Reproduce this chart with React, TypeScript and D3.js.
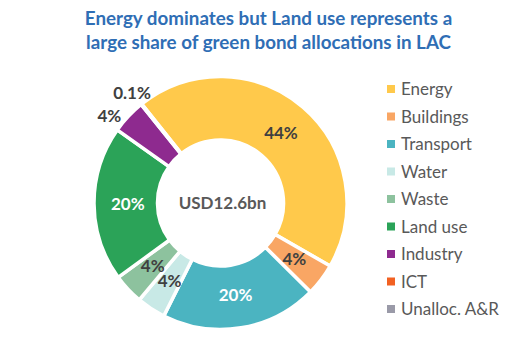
import * as d3 from 'd3';

const sectors = ['Energy', 'Buildings', 'Transport', 'Water', 'Waste', 'Land use', 'Industry', 'ICT', 'Unalloc. A&R'];
const shares = [44.0, 4.1, 20.0, 3.7, 3.9, 19.8, 4.4, 0.1, 0.0];
const colors = ['#FFC94B', '#F9A664', '#4BB4C1', '#C8E9E6', '#8DC29E', '#2BA358', '#8E2A8F', '#F26122', '#9A9AA8'];
const whiteLabels = ['Transport', 'Land use'];
const outsideLabels = ['Industry', 'ICT'];
const titleLines = ['Energy dominates but Land use represents a', 'large share of green bond allocations in LAC'];
const centerLabel = 'USD12.6bn';

const W = 532;
const H = 362;
const cx = 220.5;
const cy = 203;
const outerR = 126.5;
const innerR = 63;
const startDeg = -38.5;
const font = 'Lato, "Open Sans", sans-serif';

interface Slice {
  name: string;
  value: number;
  color: string;
}

const fmt = (v: number) => (v < 1 ? `${v.toFixed(1)}%` : `${Math.round(v)}%`);

export default function App() {
  const data: Slice[] = sectors.map((name, i) => ({ name, value: shares[i], color: colors[i] }));
  const start = (startDeg * Math.PI) / 180;
  const pie = d3
    .pie<Slice>()
    .sort(null)
    .value((d) => d.value)
    .startAngle(start)
    .endAngle(start + 2 * Math.PI);
  const arcs = pie(data);
  const arc = d3.arc<d3.PieArcDatum<Slice>>().innerRadius(innerR).outerRadius(outerR);
  const labelArc = d3.arc<d3.PieArcDatum<Slice>>().innerRadius(innerR - 2).outerRadius(outerR - 2);

  // outside labels, nudged counter-clockwise when they collide
  const outR = outerR + 15;
  const outs = arcs
    .filter((a) => outsideLabels.includes(a.data.name))
    .map((a) => {
      const ang = (a.startAngle + a.endAngle) / 2;
      return { a, ang, text: fmt(a.data.value), w: fmt(a.data.value).length * 9 };
    });
  const pos = (ang: number) => [cx + Math.sin(ang) * outR, cy - Math.cos(ang) * outR];
  for (let i = outs.length - 2; i >= 0; i--) {
    const next = outs[i + 1];
    const [nx, ny] = pos(next.ang);
    let guard = 0;
    while (guard++ < 60) {
      const [x, y] = pos(outs[i].ang);
      const overlapX = Math.abs(x - nx) < (outs[i].w + next.w) / 2;
      const overlapY = Math.abs(y - ny) < 22;
      if (!(overlapX && overlapY)) break;
      outs[i].ang -= Math.PI / 180;
    }
  }

  const legendX = 387;
  const legendY = d3.scalePoint<string>().domain(sectors).range([89, 309]);

  return (
    <svg width={W} height={H} style={{ position: 'absolute', left: 0, top: 0, background: '#fff' }}>
      <g fontFamily={font} fontWeight="bold" fill="#2F6EB5" fontSize={18.8} textAnchor="middle">
        {titleLines.map((t, i) => (
          <text key={i} x={268.5} y={24.5 + i * 24}>
            {t}
          </text>
        ))}
      </g>

      <g transform={`translate(${cx},${cy})`}>
        {arcs.map((a) =>
          a.data.value > 0 ? (
            <path key={a.data.name} d={arc(a) || ''} fill={a.data.color} stroke="#fff" strokeWidth={3.5} />
          ) : null
        )}
      </g>

      <g fontFamily={font} fontWeight="bold" fontSize={17} textAnchor="middle">
        {arcs
          .filter((a) => a.data.value > 0 && !outsideLabels.includes(a.data.name))
          .map((a) => {
            const [x, y] = labelArc.centroid(a);
            return (
              <text
                key={a.data.name}
                x={cx + x}
                y={cy + y}
                dy="0.36em"
                fill={whiteLabels.includes(a.data.name) ? '#fff' : '#404040'}
              >
                {fmt(a.data.value)}
              </text>
            );
          })}
        {outs.map((o) => {
          const [x, y] = pos(o.ang);
          return (
            <text key={o.a.data.name} x={x} y={y} dy="0.36em" fill="#404040">
              {o.text}
            </text>
          );
        })}
      </g>

      <text
        x={cx + 2}
        y={cy}
        dy="0.36em"
        textAnchor="middle"
        fontFamily={font}
        fontWeight="bold"
        fontSize={17}
        fill="#595959"
      >
        {centerLabel}
      </text>

      <g fontFamily={font} fontSize={17} fill="#595959">
        {data.map((d) => {
          const y = legendY(d.name) || 0;
          return (
            <g key={d.name}>
              <rect x={legendX} y={y - 4} width={8} height={8} fill={d.color} />
              <text x={legendX + 14} y={y} dy="0.36em">
                {d.name}
              </text>
            </g>
          );
        })}
      </g>
    </svg>
  );
}
